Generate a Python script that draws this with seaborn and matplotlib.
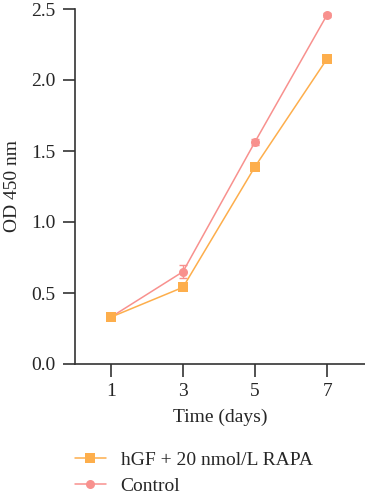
import pandas as pd
import seaborn as sns
import matplotlib.pyplot as plt
from matplotlib.lines import Line2D

# Values
days = [1, 3, 5, 7]
rapa_mean = [0.33, 0.54, 1.39, 2.15]
rapa_sd = [0.01, 0.02, 0.015, 0.015]
control_mean = [0.33, 0.65, 1.565, 2.46]
control_sd = [0.01, 0.045, 0.02, 0.015]
group_names = ["hGF + 20 nmol/L RAPA", "Control"]
colors = ["#FDAE4C", "#F8918E"]
markers = ["s", "o"]

df = pd.DataFrame({
    "Time": days * 2,
    "OD": rapa_mean + control_mean,
    "SD": rapa_sd + control_sd,
    "Group": [group_names[0]] * 4 + [group_names[1]] * 4,
})

sns.set_style("ticks")
plt.rcParams["font.family"] = ["Liberation Serif", "DejaVu Serif"]
fs = 14

fig = plt.figure(figsize=(3.65, 5), dpi=100)
ax = fig.add_axes([0.205, 0.272, 0.795, 0.71])

# draw control first so the treated line sits on top
for name, col, mk in reversed(list(zip(group_names, colors, markers))):
    sub = df[df["Group"] == name]
    ax.errorbar(sub["Time"], sub["OD"], yerr=sub["SD"], fmt="none",
                ecolor=col, elinewidth=1, capsize=3, capthick=1, zorder=2)
    sns.lineplot(data=sub, x="Time", y="OD", color=col, marker=mk,
                 markersize=6.5, markeredgewidth=0, linewidth=1.1,
                 ax=ax, zorder=3)

ax.set_xlim(0, 8.05)
ax.set_ylim(0, 2.5)
ax.set_xticks(days)
ax.set_yticks([0, 0.5, 1.0, 1.5, 2.0, 2.5])
ax.set_yticklabels(["0.0", "0.5", "1.0", "1.5", "2.0", "2.5"])
ax.set_xlabel("Time (days)", fontsize=fs, labelpad=6)
ax.set_ylabel("OD 450 nm", fontsize=fs, labelpad=7)
ax.tick_params(axis="both", labelsize=fs, length=9, width=1.2,
               color="#333333", direction="out", pad=5)
ax.spines["right"].set_visible(False)
ax.spines["top"].set_visible(False)
for s in ["left", "bottom"]:
    ax.spines[s].set_linewidth(1.2)
    ax.spines[s].set_color("#333333")

handles = [Line2D([0], [0], color=c, marker=m, markersize=6.5,
                  markeredgewidth=0, linewidth=1.1)
           for c, m in zip(colors, markers)]
fig.legend(handles, group_names, loc="upper left",
           bbox_to_anchor=(0.205, 0.098), frameon=False, fontsize=fs,
           handlelength=1.6, handletextpad=0.75, labelspacing=0.45,
           borderaxespad=0, borderpad=0)

fig.savefig("out.png", dpi=100)
